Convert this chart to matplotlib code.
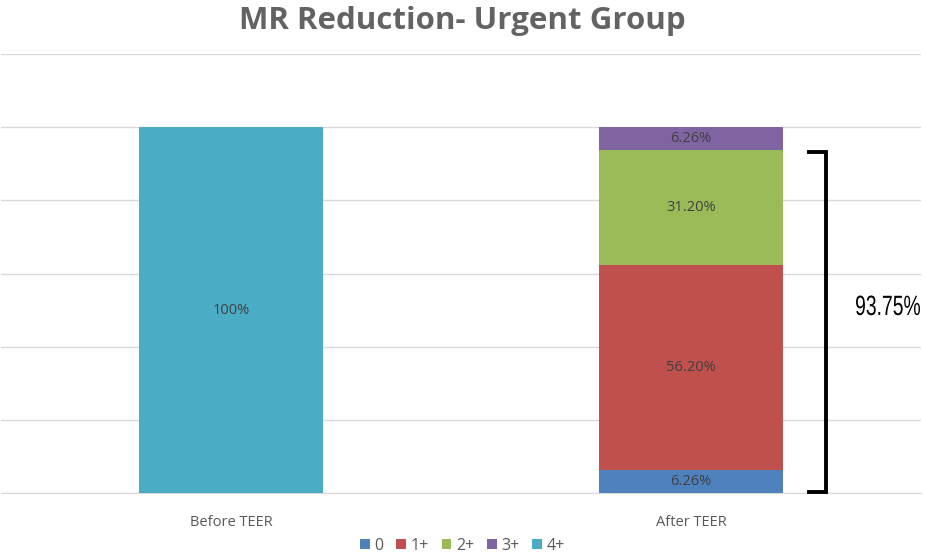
import matplotlib
matplotlib.use("Agg")
import matplotlib.pyplot as plt
from matplotlib.patches import Patch, PathPatch
from matplotlib.textpath import TextPath
from matplotlib.font_manager import FontProperties
from matplotlib.transforms import Affine2D, IdentityTransform

categories = ["Before TEER", "After TEER"]
series_names = ["0", "1+", "2+", "3+", "4+"]
values = {
    "0":  [0, 6.26],
    "1+": [0, 56.20],
    "2+": [0, 31.20],
    "3+": [0, 6.26],
    "4+": [100, 0],
}
labels = {
    "0":  [None, "6.26%"],
    "1+": [None, "56.20%"],
    "2+": [None, "31.20%"],
    "3+": [None, "6.26%"],
    "4+": ["100%", None],
}
colors = {"0": "#4F81BD", "1+": "#C0504D", "2+": "#9BBB59", "3+": "#8064A2", "4+": "#4BACC6"}
bracket_label = "93.75%"

plt.rcParams['font.family'] = ['Open Sans', 'DejaVu Sans']

W, H = 925, 555
fig = plt.figure(figsize=(W / 100, H / 100), dpi=100)
ax = fig.add_axes([1/W, 1-493/H, 920/W, (493-54)/H])

x = list(range(len(categories)))
bottoms = [0.0] * len(categories)
for s in series_names:
    v = values[s]
    ax.bar(x, v, width=0.4, bottom=bottoms, color=colors[s], zorder=3)
    for i, (val, lab) in enumerate(zip(v, labels[s])):
        if lab and val > 0:
            ax.text(i, bottoms[i] + val / 2, lab, ha='center', va='center',
                    fontsize=10.5, color='#404040', zorder=4)
    bottoms = [b + val for b, val in zip(bottoms, v)]

ax.set_xlim(-0.5, 1.5)
ax.set_ylim(0, 120)
ax.set_yticks(range(0, 121, 20))
ax.yaxis.grid(True, color='#D9D9D9', linewidth=1, zorder=0)
ax.tick_params(axis='y', left=False, labelleft=False)
ax.tick_params(axis='x', bottom=False, labelsize=10.5, colors='#595959', pad=12)
ax.set_xticks(x)
ax.set_xticklabels(categories)
for sp in ['top', 'right', 'left']:
    ax.spines[sp].set_visible(False)
ax.spines['bottom'].set_color('#D9D9D9')

# bracket
top_b = values["0"][1] + values["1+"][1] + values["2+"][1]
bx0, bx1 = 1.257, 1.294
ax.plot([bx0, bx1, bx1, bx0], [top_b - 0.5, top_b - 0.5, 0.3, 0.3], color='black',
        linewidth=2.8, solid_joinstyle='miter', clip_on=False, zorder=5)

# condensed label drawn as a scaled text path (pixel coordinates)
tp = TextPath((0, 0), bracket_label, size=1, prop=FontProperties(family='Liberation Sans'))
bb = tp.get_extents()
target_w, target_h = 64, 20
sx = target_w / bb.width
sy = target_h / 0.716
left_px, base_px = 856, H - 315
tr = Affine2D().translate(-bb.x0, 0).scale(sx, sy).translate(left_px, base_px)
fig.patches.append(PathPatch(tp, transform=tr + IdentityTransform(), facecolor='black',
                             edgecolor='none', figure=fig))

fig.suptitle("MR Reduction- Urgent Group", x=0.5, y=0.99, fontsize=22.5,
             fontweight='bold', color='#636363')

handles = [Patch(facecolor=colors[s], label=s) for s in series_names]
fig.legend(handles=handles, loc='center', bbox_to_anchor=(0.5, 1 - 546/H), ncol=5,
           frameon=False, fontsize=11.5, handlelength=0.6, handleheight=0.6,
           handletextpad=0.3, columnspacing=0.8, labelcolor='#595959')

fig.savefig("out.png", dpi=100)
